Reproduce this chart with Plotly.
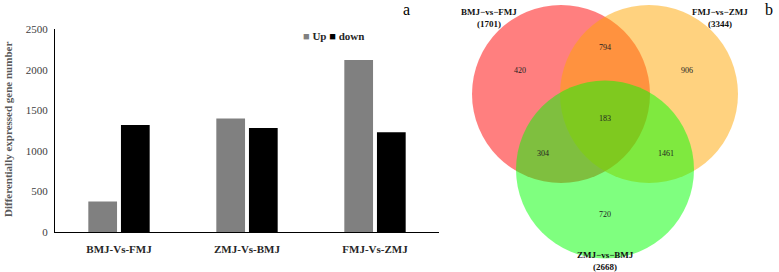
import plotly.graph_objects as go

# ---- bar chart data ----
comparisons = ["BMJ-Vs-FMJ", "ZMJ-Vs-BMJ", "FMJ-Vs-ZMJ"]
up_counts = [380, 1400, 2120]
down_counts = [1320, 1283, 1230]
y_ticks = [0, 500, 1000, 1500, 2000, 2500]

# ---- venn data ----
set_names = ["BMJ−vs−FMJ", "FMJ−vs−ZMJ", "ZMJ−vs−BMJ"]
set_totals = [1701, 3344, 2668]
set_colors = ["rgba(255,0,0,0.5)", "rgba(255,165,0,0.5)", "rgba(0,255,0,0.5)"]
# circle centres / radius in the venn panel's own coordinate space
circle_cx = [561, 649, 605]
circle_cy = [94, 94, 169.5]
circle_r = [89, 89, 89]
region_counts = [420, 794, 906, 183, 304, 1461, 720]
region_x = [520, 605, 687, 605, 543, 666, 605]
region_y = [71, 48, 71, 119, 154, 154, 215]
label_x = [489, 720, 605]
label_y = [12, 12, 255]

W, H = 779, 272
SERIF = "Liberation Serif"

fig = go.Figure()
fig.add_trace(go.Bar(x=comparisons, y=up_counts, name="Up",
                     marker=dict(color="#808080", line=dict(width=0)),
                     showlegend=False, xaxis="x", yaxis="y"))
fig.add_trace(go.Bar(x=comparisons, y=down_counts, name="down",
                     marker=dict(color="#000000", line=dict(width=0)),
                     showlegend=False, xaxis="x", yaxis="y"))

fig.add_trace(go.Scatter(x=region_x, y=region_y, mode="text",
                         text=[str(v) for v in region_counts],
                         textfont=dict(family=SERIF, size=8, color="#222"),
                         showlegend=False, hoverinfo="skip", cliponaxis=False,
                         xaxis="x2", yaxis="y2"))

shapes = []
for cx, cy, r, col in zip(circle_cx, circle_cy, circle_r, set_colors):
    shapes.append(dict(type="circle", xref="x2", yref="y2",
                       x0=cx - r, x1=cx + r, y0=cy - r, y1=cy + r,
                       fillcolor=col, line=dict(width=0), layer="below"))

annotations = []
for name, tot, lx, ly in zip(set_names, set_totals, label_x, label_y):
    annotations.append(dict(xref="x2", yref="y2", x=lx, y=ly, text=f"<b>{name}</b>",
                            xanchor="center", yanchor="middle",
                            showarrow=False, font=dict(family=SERIF, size=9, color="#111")))
    annotations.append(dict(xref="x2", yref="y2", x=lx, y=ly + 11.5, text=f"<b>({tot})</b>",
                            xanchor="center", yanchor="middle",
                            showarrow=False, font=dict(family=SERIF, size=9, color="#111")))

annotations.append(dict(xref="paper", yref="paper", x=8 / W, y=(H - 130) / H,
                        xanchor="center", yanchor="middle",
                        text="<b>Differentially expressed gene number</b>", textangle=-90,
                        showarrow=False, font=dict(family=SERIF, size=11, color="#595959")))
annotations.append(dict(xref="paper", yref="paper", x=301 / W, y=(H - 36) / H,
                        xanchor="left", yanchor="middle",
                        text='<span style="color:#808080">■</span><b> Up </b>'
                             '<span style="color:#000000">■</span><b> down</b>',
                        showarrow=False, font=dict(family=SERIF, size=11, color="#262626")))
annotations.append(dict(xref="paper", yref="paper", x=407 / W, y=(H - 10) / H, text="a",
                        xanchor="center", yanchor="middle",
                        showarrow=False, font=dict(family=SERIF, size=16, color="#000")))
annotations.append(dict(xref="paper", yref="paper", x=769 / W, y=(H - 10) / H, text="b",
                        xanchor="center", yanchor="middle",
                        showarrow=False, font=dict(family=SERIF, size=16, color="#000")))

fig.update_layout(
    width=W, height=H,
    margin=dict(l=0, r=0, t=0, b=0, autoexpand=False),
    paper_bgcolor="white", plot_bgcolor="rgba(0,0,0,0)",
    barmode="group", bargap=0.49, bargroupgap=0.12,
    shapes=shapes, annotations=annotations,
    xaxis=dict(domain=[55 / W, 439 / W], range=[-0.5, 2.5], anchor="y", automargin=False,
               showline=True, linecolor="#000", linewidth=1, ticks="",
               showgrid=False, zeroline=False, ticklabelstandoff=6,
               tickfont=dict(family=SERIF, size=11, color="#262626", weight="bold")),
    yaxis=dict(domain=[(H - 232.3) / H, (H - 29) / H], range=[0, 2500], anchor="x",
               automargin=False,
               tickvals=y_ticks, showline=True, linecolor="#000", linewidth=1,
               ticks="", showgrid=False, zeroline=False, ticklabelstandoff=4,
               tickfont=dict(family=SERIF, size=11, color="#404040")),
    xaxis2=dict(domain=[0, 1], range=[0, W], anchor="y2", visible=False,
                automargin=False, fixedrange=True),
    yaxis2=dict(domain=[0, 1], range=[H, 0], anchor="x2", visible=False,
                automargin=False, fixedrange=True),
)

fig.write_html("out.html",
               config={"displayModeBar": False},
               post_script="document.body.style.margin='0';"
                           "document.body.style.overflow='hidden';")
